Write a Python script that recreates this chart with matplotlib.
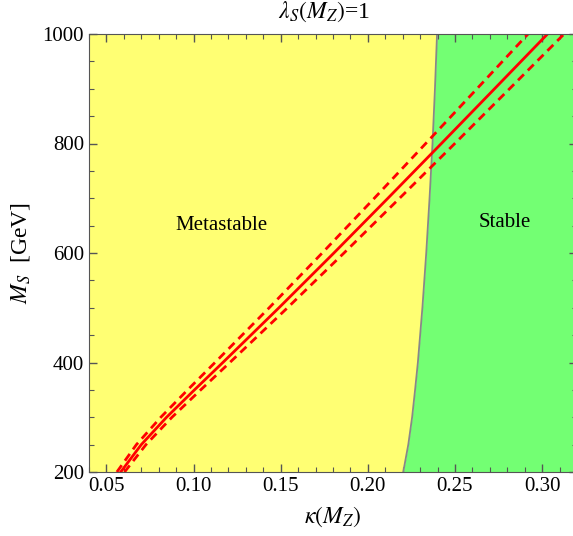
import numpy as np
import matplotlib
matplotlib.use("Agg")
import matplotlib.pyplot as plt
from matplotlib.ticker import MultipleLocator

plt.rcParams['font.family'] = ['Liberation Serif', 'DejaVu Serif']
plt.rcParams['mathtext.fontset'] = 'stix'

# stability boundary (kappa at given M_S)
bound_M = [200, 250, 300, 350, 400, 500, 600, 700, 800, 900, 1000]
bound_k = [0.2203, 0.2232, 0.2254, 0.2271, 0.2287, 0.2313, 0.2335, 0.2354, 0.2371, 0.2385, 0.2397]

# red curves
line_M = [200, 250, 300, 350, 400, 500, 600, 700, 800, 900, 1000]
line_k = [0.0582, 0.0700, 0.0845, 0.1005, 0.1168, 0.1490, 0.1805, 0.2115, 0.2422, 0.2727, 0.3031]
up_M = [200, 250, 300, 350, 400, 500, 600, 700, 800, 900, 1000]
up_k = [0.0560, 0.0672, 0.0812, 0.0966, 0.1123, 0.1434, 0.1738, 0.2037, 0.2332, 0.2626, 0.2919]
lo_M = [200, 250, 300, 350, 400, 500, 600, 700, 800, 900, 1000]
lo_k = [0.0604, 0.0727, 0.0876, 0.1041, 0.1208, 0.1539, 0.1863, 0.2182, 0.2499, 0.2813, 0.3126]

xmin, xmax = 0.04, 0.32
ymin, ymax = 200, 1000

fig = plt.figure(figsize=(5.73, 5.36), dpi=100)
ax = fig.add_axes([89/573, 64/536, 488/573, 438/536])

ax.fill_betweenx(bound_M, xmin, bound_k, color='#FFFF73', lw=0)
ax.fill_betweenx(bound_M, bound_k, xmax, color='#73FF73', lw=0)
ax.plot(bound_k, bound_M, color='#888888', lw=1.3)

ax.plot(line_k, line_M, color='#FF0000', lw=2)
ax.plot(up_k, up_M, color='#FF0000', lw=2, ls=(0, (3, 2)))
ax.plot(lo_k, lo_M, color='#FF0000', lw=2, ls=(0, (3, 2)))

ax.set_xlim(xmin, xmax)
ax.set_ylim(ymin, ymax)

ax.xaxis.set_major_locator(MultipleLocator(0.05))
ax.xaxis.set_minor_locator(MultipleLocator(0.01))
ax.yaxis.set_major_locator(MultipleLocator(200))
ax.yaxis.set_minor_locator(MultipleLocator(50))
ax.xaxis.set_major_formatter(plt.FuncFormatter(lambda v, p: f"{v:.2f}"))
ax.tick_params(which='both', direction='in', top=True, right=True, labelsize=15, color='#555555')
ax.tick_params(which='major', length=6, width=1)
ax.tick_params(which='minor', length=3.5, width=0.8)
for s in ax.spines.values():
    s.set_color('#555555')

ax.text(0.116, 651, 'Metastable', fontsize=15, ha='center', va='center')
ax.text(0.2788, 655, 'Stable', fontsize=15, ha='center', va='center')

ax.set_xlabel(r'$\kappa(M_Z)$', fontsize=17, labelpad=6)
ax.set_ylabel(r'$M_S$  [GeV]', fontsize=17, labelpad=8)
fig.text(324/573, 1 - 12/536, r'$\lambda_S(M_Z)$=1', fontsize=17, ha='center', va='center')

fig.savefig('out.png', dpi=100)
